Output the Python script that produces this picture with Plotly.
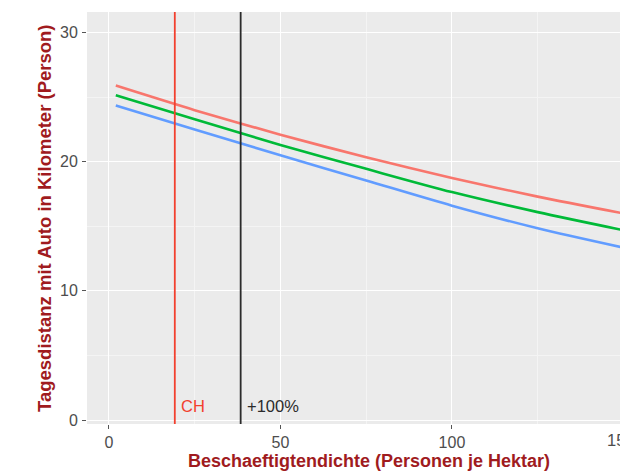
import plotly.graph_objects as go

# Data
x_vals = [2, 25, 50, 75, 100, 125, 150]
red_vals = [25.9, 24.0, 22.1, 20.35, 18.75, 17.3, 16.0]
green_vals = [25.15, 23.3, 21.3, 19.45, 17.65, 16.1, 14.7]
blue_vals = [24.35, 22.5, 20.5, 18.55, 16.6, 14.85, 13.35]
series_colors = ["#F8766D", "#00BA38", "#619CFF"]

vline_x = [19.2, 38.4]
vline_labels = ["CH", "+100%"]
vline_colors = ["#F2402E", "#2B2B2B"]

x_ticks = [0, 50, 100]
y_ticks = [0, 10, 20, 30]
x_range = [-6.4, 149.0]
y_range = [-0.31, 31.6]

title_color = "#A01B1E"
tick_color = "#4D4D4D"
FONT = "Liberation Sans, Arial"

fig = go.Figure()
for vals, col in zip([red_vals, green_vals, blue_vals], series_colors):
    fig.add_trace(go.Scatter(x=x_vals, y=vals, mode="lines",
                             line=dict(color=col, width=2.6, shape="spline", smoothing=0.8),
                             showlegend=False, hoverinfo="skip"))

for xv, lab, col in zip(vline_x, vline_labels, vline_colors):
    fig.add_shape(type="line", xref="x", yref="paper", x0=xv, x1=xv, y0=0, y1=1,
                  line=dict(color=col, width=1.8))
    fig.add_annotation(x=xv, y=0.5, xref="x", yref="y", text=lab, showarrow=False,
                       xanchor="left", yanchor="bottom", xshift=4, yshift=-3,
                       font=dict(family=FONT, size=16.5, color=col))

# partially visible tick label beyond the cropped right edge
fig.add_annotation(x=(150 - x_range[0]) / (x_range[1] - x_range[0]), y=0, xref="paper", yref="paper",
                   text="150", showarrow=False, xanchor="center", yanchor="top", yshift=-5, xshift=-2,
                   font=dict(family=FONT, size=16.5, color=tick_color))

# axis titles
fig.add_annotation(x=0.529, y=0, xref="paper", yref="paper",
                   text="<b>Beschaeftigtendichte (Personen je Hektar)</b>", showarrow=False,
                   xanchor="center", yanchor="top", yshift=-26, borderpad=0,
                   font=dict(family=FONT, size=18, color=title_color))
fig.add_annotation(x=0, y=0.5, xref="paper", yref="paper",
                   text="<b>Tagesdistanz mit Auto in Kilometer (Person)</b>", showarrow=False,
                   textangle=-90, xanchor="center", yanchor="middle", xshift=-43,
                   font=dict(family=FONT, size=18.5, color=title_color))

axis_common = dict(showgrid=True, gridcolor="#FFFFFF", gridwidth=1.2, zeroline=False,
                   ticks="outside", ticklen=4, tickwidth=1, tickcolor="#555555",
                   tickfont=dict(family=FONT, size=16, color=tick_color),
                   showline=False,
                   minor=dict(showgrid=True, gridcolor="#F4F4F4", gridwidth=0.6, ticks=""))

fig.update_xaxes(range=x_range, tickvals=x_ticks, ticklabelstandoff=0,
                 minor_tickvals=[25, 75, 125], **axis_common)
fig.update_yaxes(range=y_range, tickvals=y_ticks, ticklabelstandoff=1,
                 minor_tickvals=[5, 15, 25], **axis_common)

fig.update_layout(width=620, height=472,
                  margin=dict(l=87, r=0, t=12, b=48),
                  paper_bgcolor="white", plot_bgcolor="#EBEBEB",
                  font=dict(family=FONT))

fig.write_html("out.html")
